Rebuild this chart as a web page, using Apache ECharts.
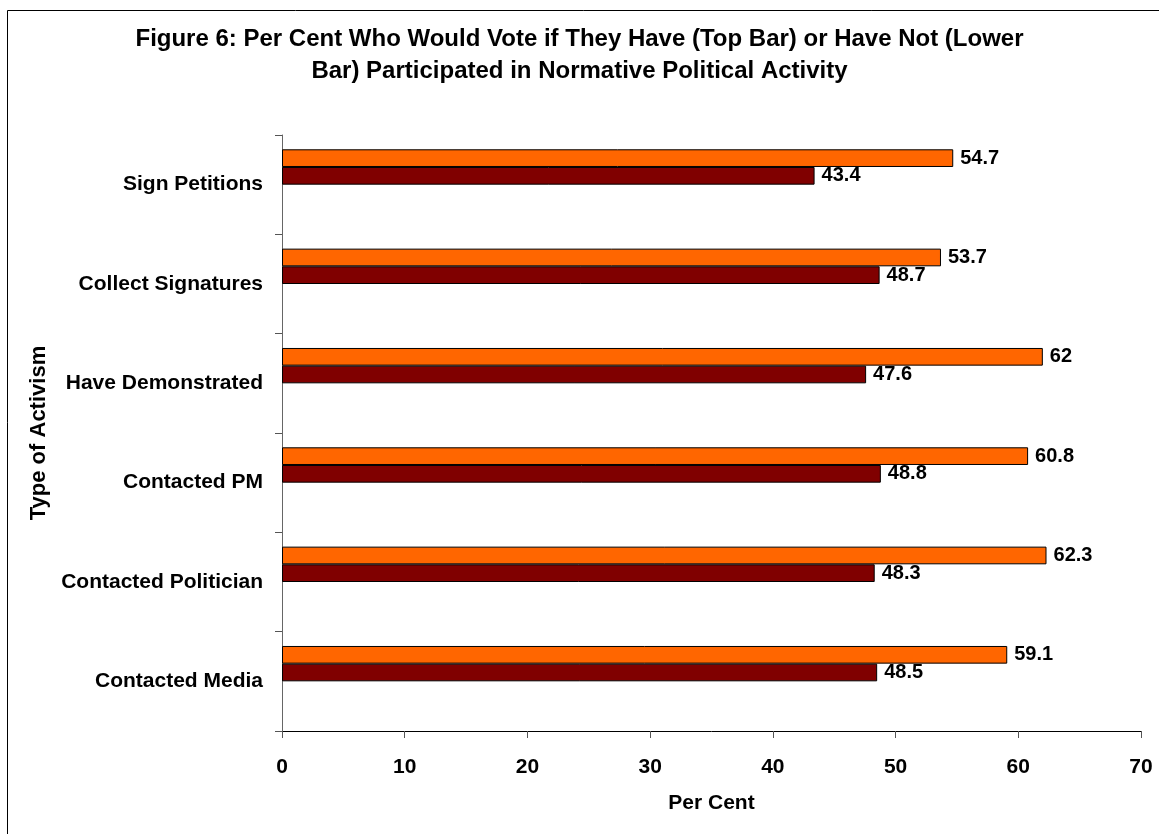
<!DOCTYPE html>
<html>
<head>
<meta charset="utf-8">
<script src="https://cdn.jsdelivr.net/npm/echarts@6/dist/echarts.min.js"></script>
<style>
  html, body { margin: 0; padding: 0; background: #fff; }
  #chart { width: 1159px; height: 834px; }
</style>
</head>
<body>
<div id="chart"></div>
<script>
// Categories, top to bottom
const categories = ['Sign Petitions', 'Collect Signatures', 'Have Demonstrated', 'Contacted PM', 'Contacted Politician', 'Contacted Media'];
// Top bar: have participated
const haveParticipated = [54.7, 53.7, 62, 60.8, 62.3, 59.1];
// Lower bar: have not participated
const haveNotParticipated = [43.4, 48.7, 47.6, 48.8, 48.3, 48.5];
// Empty slots in each cluster (the original chart reserves two unused bar positions)
const emptySlot = [null, null, null, null, null, null];
const xTicks = { min: 0, max: 70, interval: 10 };

const FONT = 'Liberation Sans, Arial, sans-serif';
const labelStyle = { show: true, position: 'right', distance: 7, color: '#000', fontFamily: FONT, fontWeight: 'bold', fontSize: 20 };

const chart = echarts.init(document.getElementById('chart'), null, { renderer: 'canvas' });
chart.setOption({
  backgroundColor: '#fff',
  animation: false,
  title: {
    text: 'Figure 6: Per Cent Who Would Vote if They Have (Top Bar) or Have Not (Lower\nBar) Participated in Normative Political Activity',
    left: 'center',
    top: 18,
    padding: [5, 0, 5, 6],
    textStyle: { fontFamily: FONT, fontWeight: 'bold', fontSize: 24, lineHeight: 32, color: '#000', align: 'center' }
  },
  graphic: [{
    type: 'rect', silent: true, z: 100,
    shape: { x: 7.5, y: 10.5, width: 1160, height: 840 },
    style: { fill: 'none', stroke: '#000', lineWidth: 1 }
  }],
  grid: { left: 282, right: 18, top: 135, bottom: 103, containLabel: false },
  xAxis: {
    type: 'value', min: xTicks.min, max: xTicks.max, interval: xTicks.interval,
    name: 'Per Cent', nameLocation: 'middle', nameGap: 62,
    nameTextStyle: { fontFamily: FONT, fontWeight: 'bold', fontSize: 21, color: '#000' },
    axisLine: { show: true, lineStyle: { color: '#000', width: 1 } },
    axisTick: { show: true, length: 7, lineStyle: { color: '#555' } },
    axisLabel: { margin: 26, fontFamily: FONT, fontWeight: 'bold', fontSize: 21, color: '#000' },
    splitLine: { show: false }
  },
  yAxis: {
    type: 'category', data: categories, inverse: true,
    name: 'Type of Activism', nameLocation: 'middle', nameGap: 228, nameRotate: 90,
    nameTextStyle: { fontFamily: FONT, fontWeight: 'bold', fontSize: 22, color: '#000' },
    axisLine: { show: true, lineStyle: { color: '#666', width: 1 } },
    axisTick: { show: true, length: 7, alignWithLabel: false, lineStyle: { color: '#555' } },
    axisLabel: { margin: 19, fontFamily: FONT, fontWeight: 'bold', fontSize: 21, color: '#000' }
  },
  series: [
    { name: 'Have participated', type: 'bar', data: haveParticipated, barGap: '0%', barCategoryGap: '28.8%',
      itemStyle: { color: '#FF6600', borderColor: '#000', borderWidth: 1 }, label: labelStyle },
    { name: 'Have not participated', type: 'bar', data: haveNotParticipated,
      itemStyle: { color: '#800000', borderColor: '#000', borderWidth: 1 }, label: labelStyle },
    { name: 'empty1', type: 'bar', data: emptySlot },
    { name: 'empty2', type: 'bar', data: emptySlot }
  ]
});
</script>
</body>
</html>
